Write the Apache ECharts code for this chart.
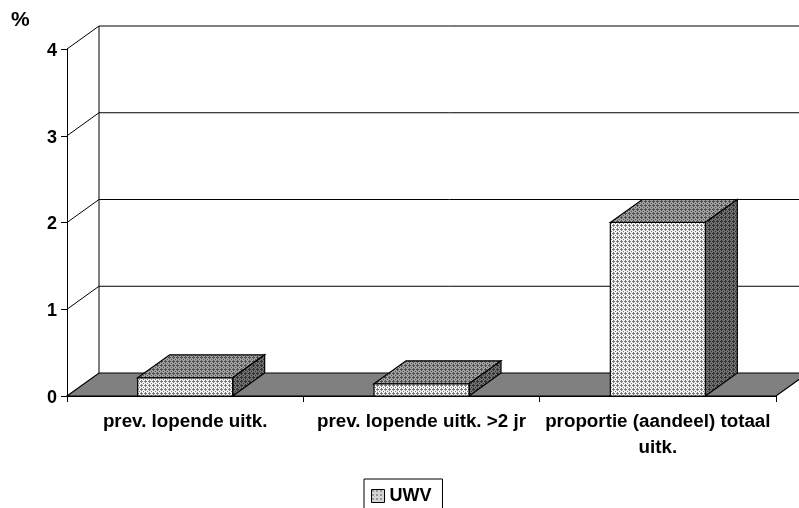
<!DOCTYPE html>
<html>
<head>
<meta charset="utf-8">
<style>
  html, body { margin: 0; padding: 0; background: #fff; overflow: hidden; }
  #chart { width: 799px; height: 508px; }
</style>
<script src="https://cdn.jsdelivr.net/npm/echarts@6/dist/echarts.min.js"></script>
</head>
<body>
<div id="chart"></div>
<script>
const categories = ["prev. lopende uitk.", "prev. lopende uitk. >2 jr", "proportie (aandeel) totaal\nuitk."];
const uwvValues = [0.21, 0.14, 2.0];
const yTicks = [0, 1, 2, 3, 4];

const FONT = '"Liberation Sans", Arial, sans-serif';
const DEPTH_X = 32;
const DEPTH_Y = -23;
const BAR_WIDTH = 95;

// 4x4 dither tile for the old office-chart dotted fill
function dither(bg, fg){
  const c = document.createElement("canvas");
  c.width = 4;
  c.height = 4;
  const g = c.getContext("2d");
  g.fillStyle = bg;
  g.fillRect(0, 0, 4, 4);
  g.fillStyle = fg;
  [[1, 1], [0, 1], [2, 1], [1, 0], [1, 2], [3, 3]].forEach(p => g.fillRect(p[0], p[1], 1, 1));
  return { image: c, repeat: "repeat" };
}

const frontFill = dither("#f4f4f4", "#7a7a7a");
const topFill = dither("#a0a0a0", "#505050");
const sideFill = dither("#707070", "#303030");

const chart = echarts.init(document.getElementById("chart"), null, { renderer: "canvas" });

function poly(points, fill){
  return {
    type: "polygon",
    shape: { points },
    style: { fill, stroke: "#000", lineWidth: 1.2 }
  };
}

// floor and the back/side wall lines, depth is a fixed pixel shift
function renderWalls(params, api){
  const left = api.coord([0, 0])[0] - api.size([1, 0])[0] / 2;
  const right = left + api.size([1, 0])[0] * categories.length;
  const y0 = api.coord([0, 0])[1];
  const yTop = api.coord([0, yTicks[yTicks.length - 1]])[1];
  const children = [
    {
      type: "polygon",
      shape: { points: [[left, y0], [left + DEPTH_X, y0 + DEPTH_Y], [right + DEPTH_X, y0 + DEPTH_Y], [right, y0]] },
      style: { fill: "#808080", stroke: "#000", lineWidth: 1.2 }
    },
    {
      type: "line",
      shape: { x1: left + DEPTH_X, y1: yTop + DEPTH_Y, x2: left + DEPTH_X, y2: y0 + DEPTH_Y },
      style: { stroke: "#000", lineWidth: 1 }
    }
  ];
  yTicks.slice(1).forEach(t => {
    const y = api.coord([0, t])[1];
    children.push({
      type: "polyline",
      shape: { points: [[left, y], [left + DEPTH_X, y + DEPTH_Y], [right + DEPTH_X, y + DEPTH_Y]] },
      style: { fill: null, stroke: "#000", lineWidth: 1 }
    });
  });
  return { type: "group", children };
}

function renderBar(params, api){
  const x = api.coord([api.value(0), 0])[0] - BAR_WIDTH / 2;
  const y0 = api.coord([0, 0])[1];
  const y1 = api.coord([0, api.value(1)])[1];
  const r = x + BAR_WIDTH;
  return {
    type: "group",
    children: [
      poly([[x, y1], [x + DEPTH_X, y1 + DEPTH_Y], [r + DEPTH_X, y1 + DEPTH_Y], [r, y1]], topFill),
      poly([[r, y1], [r + DEPTH_X, y1 + DEPTH_Y], [r + DEPTH_X, y0 + DEPTH_Y], [r, y0]], sideFill),
      poly([[x, y1], [r, y1], [r, y0], [x, y0]], frontFill)
    ]
  };
}

chart.setOption({
  animation: false,
  backgroundColor: "#fff",
  title: {
    text: "%",
    left: 6,
    top: 5,
    textStyle: { fontFamily: FONT, fontSize: 21, fontWeight: "bold", color: "#000" }
  },
  legend: {
    data: [{ name: "UWV", icon: "rect" }],
    left: 364,
    top: 479,
    padding: [8, 11, 30, 7],
    itemWidth: 13,
    itemHeight: 13,
    itemGap: 3,
    borderColor: "#000",
    borderWidth: 1,
    textStyle: { fontFamily: FONT, fontSize: 18, fontWeight: "bold", color: "#000" },
    itemStyle: { color: frontFill, borderColor: "#000", borderWidth: 1 }
  },
  grid: { left: 67, right: 23, top: 49, bottom: 112 },
  xAxis: {
    type: "category",
    data: categories,
    axisLine: { lineStyle: { color: "#000", width: 1 } },
    axisTick: { show: true, alignWithLabel: false, length: 6, lineStyle: { color: "#000" } },
    axisLabel: {
      interval: 0,
      margin: 13,
      lineHeight: 26,
      fontFamily: FONT,
      fontSize: 18.8,
      fontWeight: "bold",
      color: "#000"
    },
    splitLine: { show: false }
  },
  yAxis: {
    type: "value",
    min: 0,
    max: 4,
    interval: 1,
    axisLine: { show: true, lineStyle: { color: "#000", width: 1 } },
    axisTick: { show: true, length: 6, lineStyle: { color: "#000" } },
    axisLabel: {
      margin: 10,
      verticalAlign: "top",
      lineHeight: 4,
      fontFamily: FONT,
      fontSize: 18,
      fontWeight: "bold",
      color: "#000"
    },
    splitLine: { show: false }
  },
  series: [
    {
      name: "walls",
      type: "custom",
      renderItem: renderWalls,
      data: [[0, 0]],
      clip: false,
      silent: true,
      z: 1
    },
    {
      name: "UWV",
      type: "custom",
      renderItem: renderBar,
      data: uwvValues.map((v, i) => [i, v]),
      encode: { x: 0, y: 1 },
      itemStyle: { color: frontFill },
      clip: false,
      z: 3
    }
  ]
});
</script>
</body>
</html>
